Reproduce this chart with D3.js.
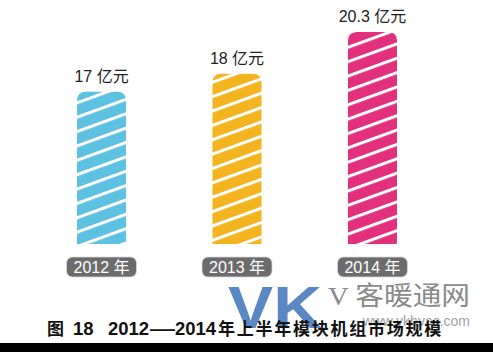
<!DOCTYPE html>
<html lang="zh">
<head>
<meta charset="UTF-8">
<title>2012—2014 年上半年模块机组市场规模</title>
<script src="https://d3js.org/d3.v7.min.js"></script>
<style>
  body { margin: 0; background: #fff; }
  svg text { font-family: "Liberation Sans", "Noto Sans CJK SC", sans-serif; }
</style>
</head>
<body>
<div id="chart"></div>
<script>
// data
const years = ["2012 年", "2013 年", "2014 年"];
const values = [17, 18, 20.3];
const valueLabels = ["17 亿元", "18 亿元", "20.3 亿元"];
const colors = ["#5dc2e2", "#f3b41f", "#e2307e"];
// caption pieces: [text, x, font-size]
const titleParts = [
  ["图", 47, 17],
  ["18", 73, 18.5],
  ["2012", 108, 18.5],
  ["—", 150, 18.5],
  ["2014", 175, 18.5],
  ["年上半年模块机组市场规模", 218, 17]
];

const width = 493, height = 352;
const baseY = 244;

const svg = d3.select("#chart").append("svg")
  .attr("width", width)
  .attr("height", height);

// bars sit on a cut baseline (values do not start at 0 in the original)
const x = d3.scaleBand().domain(years).range([77, 397]).paddingInner(0.638).paddingOuter(0);
const y = d3.scaleLinear().domain([8.6, 20.3]).range([baseY, 32]);

// striped fills
const defs = svg.append("defs");
colors.forEach((c, i) => {
  const p = defs.append("pattern")
    .attr("id", "stripe" + i)
    .attr("patternUnits", "userSpaceOnUse")
    .attr("width", 12)
    .attr("height", 13.5)
    .attr("patternTransform", "rotate(-20)");
  p.append("rect").attr("width", 12).attr("height", 13.5).attr("fill", c);
  p.append("rect").attr("y", 0).attr("width", 12).attr("height", 3).attr("fill", "#fff");
});

// top-rounded bar path
function barPath(x0, y0, w, h, r) {
  return `M${x0},${y0 + h}V${y0 + r}Q${x0},${y0} ${x0 + r},${y0}H${x0 + w - r}Q${x0 + w},${y0} ${x0 + w},${y0 + r}V${y0 + h}Z`;
}

const g = svg.append("g");

g.selectAll("path.bar")
  .data(values)
  .join("path")
  .attr("class", "bar")
  .attr("d", (d, i) => barPath(x(years[i]), y(d), x.bandwidth(), baseY - y(d), 9))
  .attr("fill", (d, i) => `url(#stripe${i})`);

g.selectAll("text.val")
  .data(values)
  .join("text")
  .attr("class", "val")
  .attr("x", (d, i) => x(years[i]) + x.bandwidth() / 2)
  .attr("y", d => y(d) - 10)
  .attr("text-anchor", "middle")
  .attr("font-size", 16)
  .attr("fill", "#222")
  .text((d, i) => valueLabels[i]);

// year pills
const pill = g.selectAll("g.pill")
  .data(years)
  .join("g")
  .attr("class", "pill")
  .attr("transform", d => `translate(${x(d) + x.bandwidth() / 2},267)`);

pill.append("rect")
  .attr("x", -35).attr("y", -10)
  .attr("width", 70).attr("height", 20)
  .attr("rx", 6)
  .attr("fill", "#6c6c6c")
  .attr("stroke", "#d8d8d8")
  .attr("stroke-width", 0.8);

pill.append("text")
  .attr("text-anchor", "middle")
  .attr("y", 6)
  .attr("font-size", 16)
  .attr("fill", "#fff")
  .text(d => d);

// watermark
const wm = svg.append("g");
wm.append("text")
  .attr("x", 228).attr("y", 328)
  .attr("font-family", "DejaVu Sans")
  .attr("font-weight", "bold")
  .attr("font-size", 59)
  .attr("textLength", 94)
  .attr("lengthAdjust", "spacingAndGlyphs")
  .attr("fill", "#5b87c3")
  .text("VK");
const wmName = wm.append("text")
  .attr("x", 328).attr("y", 305)
  .attr("font-size", 26)
  .attr("fill", "#8a8a8a")
  .attr("textLength", 142)
  .attr("lengthAdjust", "spacingAndGlyphs");
wmName.append("tspan").attr("font-family", "Liberation Serif").text("V ");
wmName.append("tspan").text("客暖通网");

wm.append("text")
  .attr("x", 470).attr("y", 326)
  .attr("text-anchor", "end")
  .attr("font-size", 14)
  .attr("fill", "#8a8a8a")
  .attr("opacity", 0.8)
  .text("www.vkhvac.com");

// caption
const cap = svg.append("text")
  .attr("y", 335)
  .attr("font-weight", "bold")
  .attr("fill", "#111");
cap.selectAll("tspan")
  .data(titleParts)
  .join("tspan")
  .attr("x", d => d[1])
  .attr("font-size", d => d[2])
  .attr("letter-spacing", d => d[0].length > 4 ? 1.75 : 0)
  .attr("textLength", d => d[0] === "—" ? 25 : null)
  .attr("lengthAdjust", "spacingAndGlyphs")
  .text(d => d[0]);

svg.append("rect")
  .attr("x", 0).attr("y", 343)
  .attr("width", width).attr("height", 9)
  .attr("fill", "#000");
</script>
</body>
</html>
